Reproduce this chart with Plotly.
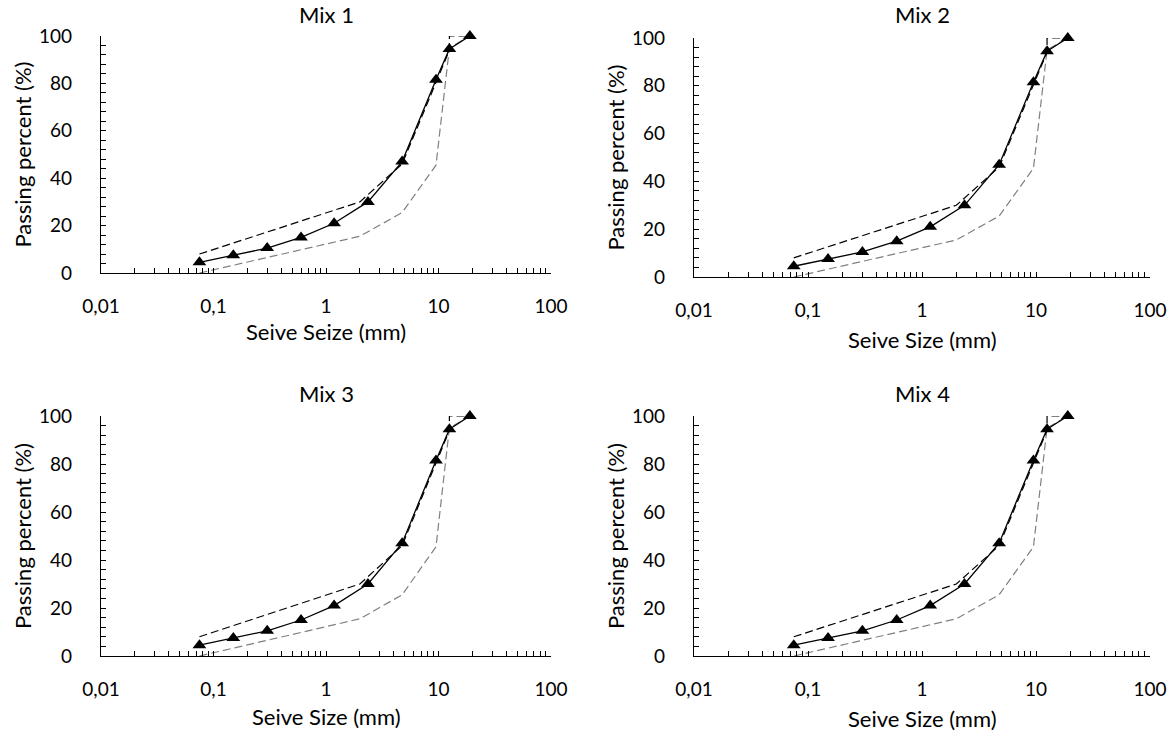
import plotly.graph_objects as go

# ---------------- data ----------------
sieve_sizes = [0.075, 0.15, 0.3, 0.6, 1.18, 2.36, 4.75, 9.5, 12.5, 19]
mix1_passing = [4.5, 7.5, 10.5, 15, 21, 30, 47, 81.5, 94.5, 100]
mix2_passing = [4.5, 7.5, 10.5, 15, 21, 30, 47, 81.5, 94.5, 100]
mix3_passing = [4.5, 7.5, 10.5, 15, 21, 30, 47, 81.5, 94.5, 100]
mix4_passing = [4.5, 7.5, 10.5, 15, 21, 30, 47, 81.5, 94.5, 100]

upper_sizes = [0.075, 2.0, 4.75, 9.5, 12.5, 12.5, 19]
upper_passing = [8, 30, 46, 80, 94, 100, 100]
lower_sizes = [0.075, 2.0, 4.75, 9.5, 12.5, 19]
lower_passing = [0, 15.5, 25.5, 45.5, 95, 100]

mix_names = ["Mix 1", "Mix 2", "Mix 3", "Mix 4"]
mix_values = [mix1_passing, mix2_passing, mix3_passing, mix4_passing]
x_titles = ["Seive Seize (mm)", "Seive Size (mm)", "Seive Size (mm)", "Seive Size (mm)"]
y_title = "Passing percent (%)"

x_tick_vals = [0.01, 0.1, 1, 10, 100]
x_tick_labels = ["0,01", "0,1", "1", "10", "100"]
y_tick_vals = [0, 20, 40, 60, 80, 100]
y_tick_labels = ["0", "20", "40", "60", "80", "100"]

# ---------------- layout geometry (pixels) ----------------
W, H = 1173, 733
boxes = [  # x0, x1, ytop, ybot
    (101, 551, 36, 273),
    (694, 1150, 38, 277),
    (101, 551, 416, 656),
    (694, 1150, 416, 656),
]
xtitle_y = [332, 339, 716, 718]
title_y = [15, 15, 393, 393]

FONT = "Lato"
FS_TICK = 19
FS_TITLE = 22
BLACK = "#000000"

# build tick lists (majors + minor positions with blank labels)
xt_vals, xt_text = [], []
for i, dec in enumerate(x_tick_vals[:-1]):
    for m in range(1, 10):
        xt_vals.append(dec * m)
        xt_text.append(x_tick_labels[i] if m == 1 else "")
xt_vals.append(x_tick_vals[-1])
xt_text.append(x_tick_labels[-1])

yt_vals, yt_text = [], []
for v in range(0, 101, 4):
    yt_vals.append(v)
    yt_text.append(y_tick_labels[y_tick_vals.index(v)] if v in y_tick_vals else "")

fig = go.Figure()
annotations = []
for k in range(4):
    xa = "x" if k == 0 else f"x{k+1}"
    ya = "y" if k == 0 else f"y{k+1}"
    fig.add_trace(go.Scatter(x=lower_sizes, y=lower_passing, mode="lines",
                             line=dict(color="#808080", width=1.2, dash="8px,4px"),
                             xaxis=xa, yaxis=ya, showlegend=False))
    fig.add_trace(go.Scatter(x=upper_sizes, y=upper_passing, mode="lines",
                             line=dict(color="#000000", width=1.2, dash="8px,4px"),
                             xaxis=xa, yaxis=ya, showlegend=False))
    fig.add_trace(go.Scatter(x=sieve_sizes, y=mix_values[k], mode="lines+markers",
                             line=dict(color="#000000", width=1.3),
                             marker=dict(symbol="triangle-up", size=12, color="#000000"),
                             xaxis=xa, yaxis=ya, showlegend=False, cliponaxis=False))
    x0, x1, yt, yb = boxes[k]
    xkey = "xaxis" if k == 0 else f"xaxis{k+1}"
    ykey = "yaxis" if k == 0 else f"yaxis{k+1}"
    fig.update_layout(**{
        xkey: dict(type="log", range=[-2, 2], domain=[x0 / W, x1 / W], anchor=ya,
                   tickvals=xt_vals, ticktext=xt_text, ticks="inside", ticklen=5,
                   tickwidth=1, tickcolor=BLACK, showline=True, linecolor=BLACK,
                   linewidth=1.3, showgrid=False, zeroline=False, automargin=False,
                   ticklabelstandoff=16,
                   tickfont=dict(family=FONT, size=FS_TICK, color=BLACK)),
        ykey: dict(range=[0, 100], domain=[1 - yb / H, 1 - yt / H], anchor=xa,
                   tickvals=yt_vals, ticktext=yt_text, ticks="inside", ticklen=5,
                   tickwidth=1, tickcolor=BLACK, showline=True, linecolor=BLACK,
                   linewidth=1.3, showgrid=False, zeroline=False, automargin=False,
                   ticklabelstandoff=24,
                   tickfont=dict(family=FONT, size=FS_TICK, color=BLACK)),
    })
    cx = (x0 + x1) / 2
    annotations.append(dict(text=mix_names[k], x=cx / W, y=1 - title_y[k] / H,
                            xref="paper", yref="paper", showarrow=False,
                            xanchor="center", yanchor="middle",
                            font=dict(family=FONT, size=FS_TITLE, color=BLACK)))
    annotations.append(dict(text=x_titles[k], x=cx / W, y=1 - xtitle_y[k] / H,
                            xref="paper", yref="paper", showarrow=False,
                            xanchor="center", yanchor="middle",
                            font=dict(family=FONT, size=FS_TITLE, color=BLACK)))
    annotations.append(dict(text=y_title, x=(x0 - 79) / W, y=1 - ((yt + yb) / 2) / H,
                            xref="paper", yref="paper", showarrow=False, textangle=-90,
                            xanchor="center", yanchor="middle",
                            font=dict(family=FONT, size=FS_TITLE, color=BLACK)))

fig.update_layout(width=W, height=H, margin=dict(l=0, r=0, t=0, b=0),
                  paper_bgcolor="white", plot_bgcolor="white",
                  annotations=annotations, showlegend=False)

fig.write_html("out.html", config={"displayModeBar": False},
               post_script="document.body.style.margin='0';")
